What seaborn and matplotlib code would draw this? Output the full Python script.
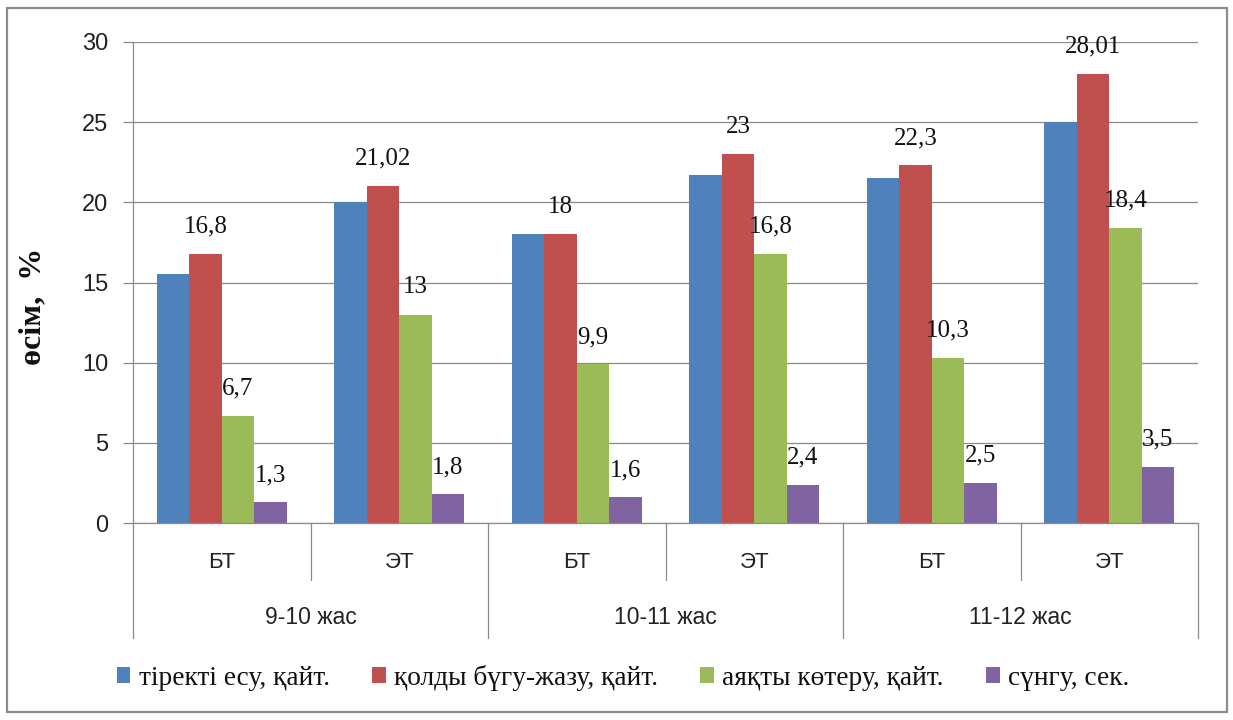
import numpy as np
import pandas as pd
import matplotlib
matplotlib.use("Agg")
import matplotlib.pyplot as plt
import seaborn as sns
from matplotlib.patches import Patch, Rectangle
from matplotlib.lines import Line2D
import matplotlib.transforms as mtransforms

# ---------------- data ----------------
age_groups = ["9-10 жас", "10-11 жас", "11-12 жас"]
sub_groups = ["БТ", "ЭТ"]
series_names = ["тіректі есу, қайт.", "қолды бүгу-жазу, қайт.",
                "аяқты көтеру, қайт.", "сүнгу, сек."]
s_support = [15.5, 20.0, 18.0, 21.7, 21.5, 25.0]
s_arms = [16.8, 21.02, 18.0, 23.0, 22.3, 28.01]
s_legs = [6.7, 13.0, 9.9, 16.8, 10.3, 18.4]
s_dive = [1.3, 1.8, 1.6, 2.4, 2.5, 3.5]
labelled_series = [1, 2, 3]
y_ticks = [0, 5, 10, 15, 20, 25, 30]
y_label = "өсім,  %"

colors = ["#4F81BD", "#C0504D", "#9BBB59", "#8064A2"]

sns.set_theme(style="white")
SANS = ["Liberation Sans", "DejaVu Sans"]
SERIF = ["Liberation Serif", "DejaVu Serif"]
plt.rcParams["font.family"] = SANS

cats = [f"{a} {s}" for a in age_groups for s in sub_groups]
all_series = [s_support, s_arms, s_legs, s_dive]
rows = []
for name, vals in zip(series_names, all_series):
    for c, v in zip(cats, vals):
        rows.append({"cat": c, "series": name, "value": v})
df = pd.DataFrame(rows)

fig = plt.figure(figsize=(12.33, 7.2), dpi=100)
ax = fig.add_axes([133 / 1233, 1 - 523 / 720, 1065 / 1233, 481 / 720])

sns.barplot(data=df, x="cat", y="value", hue="series", order=cats,
            hue_order=series_names, palette=colors, width=0.73,
            saturation=1, linewidth=0, legend=False, ax=ax)

grid_c = "#8a8a8a"
ax.set_xlim(-0.5, len(cats) - 0.5)
ax.set_ylim(0, 30)
ax.set_yticks(y_ticks)
ax.yaxis.grid(True, color=grid_c, linewidth=0.9)
ax.set_axisbelow(True)
for side in ["top", "right"]:
    ax.spines[side].set_visible(False)
for side in ["left", "bottom"]:
    ax.spines[side].set_color(grid_c)
    ax.spines[side].set_linewidth(0.9)
ax.tick_params(axis="y", direction="out", length=7, width=0.9, color=grid_c,
               pad=11, labelsize=17, labelcolor="#222222", left=True)
ax.set_xticks([])
ax.set_xlabel("")
ax.set_ylabel(y_label, family=SERIF, fontsize=23, fontweight="bold",
              color="#111111")
ax.yaxis.set_label_coords((47 - 133) / 1065, (523 - 306) / 481)

# value labels
for si in labelled_series:
    cont = ax.containers[si]
    for bar, v in zip(cont.patches, all_series[si]):
        txt = f"{v:g}".replace(".", ",")
        ax.annotate(txt, (bar.get_x() + bar.get_width() / 2, bar.get_height()),
                    xytext=(0, 19.5), textcoords="offset points",
                    ha="center", va="center", family=SERIF, fontsize=18,
                    color="#111111")

# two-level category axis
trans = mtransforms.blended_transform_factory(ax.transData, ax.transAxes)
short_h = -57 / 481
long_h = -115 / 481
n_sub = len(sub_groups)
for i in range(len(cats) + 1):
    x = i - 0.5
    h = long_h if i % n_sub == 0 else short_h
    ax.add_line(Line2D([x, x], [0, h], transform=trans, color=grid_c,
                       linewidth=0.9, clip_on=False))
for i, c in enumerate(cats):
    ax.text(i, -39 / 481, sub_groups[i % n_sub], transform=trans,
            ha="center", va="center", fontsize=16, color="#222222")
for j, a in enumerate(age_groups):
    ax.text(j * n_sub + (n_sub - 1) / 2, -95 / 481, a, transform=trans,
            ha="center", va="center", fontsize=16.5, color="#222222")

# legend
handles = [Patch(facecolor=c, edgecolor="none") for c in colors]
fig.legend(handles, series_names, loc="center",
           bbox_to_anchor=(623 / 1233, 1 - 678 / 720), ncol=4, frameon=False,
           prop={"family": SERIF, "size": 19.7}, handlelength=0.5,
           handleheight=0.5, handletextpad=0.3, columnspacing=1.55,
           labelcolor="#111111")

# outer border
fig.patches.append(Rectangle((7 / 1233, 1 - 712 / 720), 1220 / 1233,
                             704 / 720, transform=fig.transFigure,
                             fill=False, edgecolor="#8c8c8c", linewidth=1.6))

fig.savefig("out.png", dpi=100)
